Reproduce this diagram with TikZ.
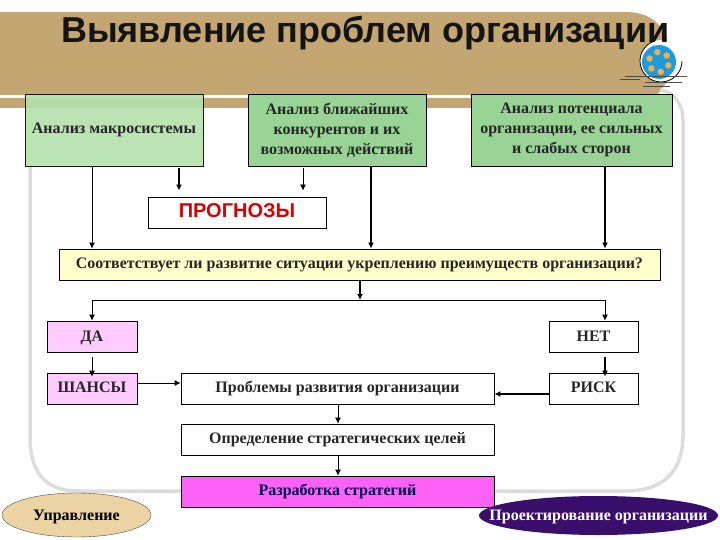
\documentclass[tikz,border=0pt]{standalone}
\usepackage{fontspec}
\setmainfont{Liberation Serif}
\setsansfont{Liberation Sans}
\usetikzlibrary{shapes.geometric,arrows.meta}
\definecolor{bandbrown}{HTML}{C4A673}
\definecolor{framegray}{HTML}{DCDCDC}
\definecolor{boxgreen}{HTML}{99D396}
\definecolor{lightgreen}{HTML}{B4E0AC}
\definecolor{boxyellow}{HTML}{FFFFCC}
\definecolor{boxpink}{HTML}{FFCCFF}
\definecolor{boxmagenta}{HTML}{FB62F5}
\definecolor{ovaltan}{HTML}{EBD3A4}
\definecolor{ovalviolet}{HTML}{3A0F6B}
\definecolor{logoblue}{HTML}{1E9BDC}
\definecolor{logoorange}{HTML}{F0B050}
\tikzset{
  stage/.style={draw=black,line width=0.8pt,align=center,inner sep=0pt,
    font=\bfseries\fontsize{16}{20}\selectfont,text=black!85},
  oval/.style={ellipse,inner sep=0pt,font=\bfseries\fontsize{16}{16}\selectfont},
  arr/.style={-{Latex[length=6pt,width=6pt]},line width=0.8pt},
  arrthick/.style={-{Latex[length=6pt,width=6pt]},line width=1.4pt},
}
\newcommand{\boxat}[7][]{\node[stage,#1,minimum width=#4pt-#2pt,minimum height=#5pt-#3pt,fill=#6] at ({(#2+#4)/2},{(#3+#5)/2}) {\vphantom{Ду}#7};}
\begin{document}
\begin{tikzpicture}[x=1pt,y=-1pt]
  \useasboundingbox (0,0) rectangle (720,540);
  % background
  \fill[bandbrown] (0,12) -- (625,12) .. controls (648,12) and (660,22) .. (667,38) -- (667,82) -- (657,95) -- (0,95) -- cycle;
  \fill[bandbrown] (0,98) rectangle (472,108);
  \draw[framegray,line width=3.5pt] (30,166) -- (30,437) .. controls (30,472) and (45,491) .. (78,491) -- (625,491) .. controls (665,491) and (683,470) .. (683,435) -- (683,120) .. controls (683,105) and (675,92) .. (660,90);
  % logo
  \fill[white] (661,61) circle (21);
  \draw[black,line width=0.8pt] (682,61) arc (0:250:21);
  \fill[logoblue] (659,62) circle (17);
  \foreach \a in {20,80,140,200,260,320}
    \fill[logoorange] (659,62) ++(\a:10) circle (3.2);
  \draw[black!70,line width=1pt] (620,80) -- (640,80);
  \draw[black!70,line width=1pt] (625,77) -- (687,77);
  \draw[black!70,line width=1pt] (645,83) -- (682,83);
  \draw[black!70,line width=1pt] (643,87) -- (670,87);
  % title
  \node[font=\sffamily\bfseries\fontsize{36}{36}\selectfont,text=black!92,anchor=base west,inner sep=0pt] (title) at (61,43) {Выявление проблем организации};
  % boxes
  \boxat[name=macro,opacity=0.9,text opacity=1]{25}{94}{203}{166}{lightgreen}{Анализ макросистемы}
  \boxat[name=near]{248}{94}{426}{166}{boxgreen}{Анализ ближайших\\конкурентов и их\\возможных действий}
  \boxat[name=potential]{471}{94}{672}{166}{boxgreen}{Анализ потенциала\\организации, ее сильных\\и слабых сторон}
  \boxat[name=prognoz,text=red!85!black,font=\sffamily\bfseries\fontsize{20}{20}\selectfont]{148}{197}{326}{228}{white}{ПРОГНОЗЫ}
  \boxat[name=question]{59}{249}{660}{280}{boxyellow}{Соответствует ли развитие ситуации укреплению преимуществ организации?}
  \boxat[name=yes]{47}{321}{137}{352}{boxpink}{\smash{\raisebox{-1pt}{ДА}}}
  \boxat[name=no]{549}{321}{638}{352}{white}{\smash{\raisebox{-1pt}{НЕТ}}}
  \boxat[name=chances]{47}{373}{137}{404}{boxpink}{ШАНСЫ}
  \boxat[name=problems]{181}{373}{494}{404}{white}{Проблемы развития организации}
  \boxat[name=risk]{549}{373}{638}{404}{white}{РИСК}
  \boxat[name=goals]{181}{424}{494}{455}{white}{Определение стратегических целей}
  \boxat[name=strategy,text=blue!30!black]{181}{476}{494}{507}{boxmagenta}{Разработка стратегий}
  \node[oval,draw=black!70,fill=ovaltan,minimum width=149pt,minimum height=44pt] (manage) at (76.5,515) {\makebox[0pt]{\smash{\raisebox{-5.5pt}{Управление}}}};
  \node[oval,fill=ovalviolet,minimum width=239pt,minimum height=39pt,text=white] (design) at (598.5,515.5) {\makebox[0pt]{\smash{\raisebox{-5pt}{Проектирование организации}}}};
  % connectors
  \coordinate (splitl) at (92,300);
  \coordinate (splitm) at (360,300);
  \coordinate (splitr) at (605,300);
  \coordinate (fcl) at (179,0);
  \coordinate (fcr) at (303,0);
  \coordinate (nearr) at (371,0);
  \coordinate (midc) at (338,0);
  \draw[arr] (macro.south -| splitl) -- (question.north -| splitl);
  \draw[arrthick,shorten <=2pt,shorten >=6pt] (macro.south -| fcl) -- (prognoz.north -| fcl);
  \draw[arr,shorten <=2pt,shorten >=6pt] (near.south -| fcr) -- (prognoz.north -| fcr);
  \draw[arrthick] (near.south -| nearr) -- (question.north -| nearr);
  \draw[arrthick] (potential.south -| splitr) -- (question.north -| splitr);
  \draw[arrthick] (question.south -| splitm) -- (splitm);
  \draw[arr] (splitm) -- (splitl) -- (yes.north -| splitl);
  \draw[arr] (splitm) -- (splitr) -- (no.north -| splitr);
  \draw[arr,shorten <=5pt,shorten >=-4pt] (yes.south -| splitl) -- (chances.north -| splitl);
  \draw[arrthick,shorten <=5pt,shorten >=-4pt] (no.south -| splitr) -- (risk.north -| splitr);
  \draw[arr] (chances.east |- 0,383) -- (problems.west |- 0,383);
  \draw[arrthick] (risk.west |- 0,394) -- (problems.east |- 0,394);
  \draw[arr] (problems.south -| midc) -- (goals.north -| midc);
  \draw[arr] (goals.south -| midc) -- (strategy.north -| midc);
\end{tikzpicture}
\end{document}
